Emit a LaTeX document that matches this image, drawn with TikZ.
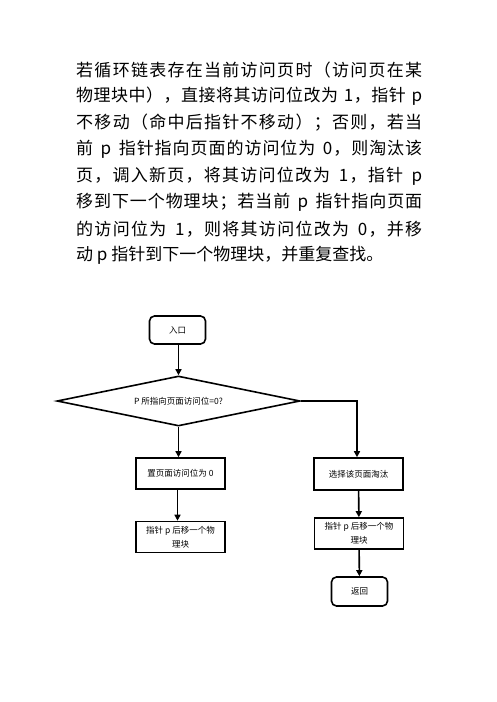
\documentclass[tikz,border=0pt]{standalone}
\usepackage{fontspec}
\newfontfamily\cjk{Noto Sans CJK SC}
\usetikzlibrary{shapes.geometric,arrows.meta}
\def\spr#1{\sprB#1\relax}
\def\sprB#1{#1\sprA}
\def\sprA#1{\ifx\relax#1\else\hskip 0pt plus 1pt #1\expandafter\sprA\fi}
\tikzset{
  para/.style={anchor=west, inner sep=0pt, font=\cjk\fontsize{17}{20}\selectfont},
  box/.style={draw, line width=1.6pt, minimum width=89pt, minimum height=31pt, inner sep=1pt,
    font=\cjk\fontsize{8.5}{14}\selectfont, align=center},
  term/.style={box, rounded corners=5pt, minimum width=56pt, minimum height=28pt},
  decision/.style={draw, line width=1.6pt, shape=diamond, shape aspect=4.86, minimum width=243pt,
    minimum height=50pt, inner sep=0pt, font=\cjk\fontsize{8.5}{14}\selectfont},
  arr/.style={line width=1.6pt, -{Triangle[length=6pt,width=6pt]}}
}
\begin{document}
\begin{tikzpicture}[x=1pt,y=-1pt]
\useasboundingbox (0,0) rectangle (496,702);
\fill[white] (0,0) rectangle (496,702);
\node[para] (l1) at (76,70)    {\makebox[346pt][s]{\spr{若循环链表存在当前访问页时（访问页在某}}};
\node[para] (l2) at (76,96.5)  {\makebox[346pt][s]{\spr{物理块中），直接将其访问位改为\ 1，指针\ p}}};
\node[para] (l3) at (76,123)   {\makebox[346pt][s]{\spr{不移动（命中后指针不移动）；否则，若当}}};
\node[para] (l4) at (76,149.5) {\makebox[346pt][s]{\spr{前\ p\ 指针指向页面的访问位为\ 0，则淘汰该}}};
\node[para] (l5) at (76,176)   {\makebox[346pt][s]{\spr{页，调入新页，将其访问位改为\ 1，指针\ p}}};
\node[para] (l6) at (76,202.5) {\makebox[346pt][s]{\spr{移到下一个物理块；若当前\ p\ 指针指向页面}}};
\node[para] (l7) at (76,229)   {\makebox[346pt][s]{\spr{的访问位为\ 1，则将其访问位改为\ 0，并移}}};
\node[para] (l8) at (76,255.5) {动 p 指针到下一个物理块，并重复查找。};

\node[term] (in) at (177.5,330) {入口};
\node[decision] (d) at (178.5,401) {P 所指向页面访问位=0?};
\node[box] (a) at (180.5,473.5) {置页面访问位为 0};
\node[box] (b) at (180.5,537) {指针 p 后移一个物\\理块};
\node[box, minimum height=32pt] (c) at (358.5,474) {选择该页面淘汰};
\node[box] (e) at (359,533.5) {指针 p 后移一个物\\理块};
\node[term, minimum height=29pt] (r) at (359.5,591.5) {返回};

\draw[arr] (in.south -| d.north) -- (d.north);
\draw[arr] (d.south) -- (d.south |- a.north);
\draw[arr] ([xshift=-3pt]a.south) -- ([xshift=-3pt]b.north);
\draw[arr] (d.east) -- ([xshift=-1.5pt]d.east -| c.north) -- ([xshift=-1.5pt]c.north);
\draw[arr] (c) -- (e);
\draw[arr] (e) -- (r);
\end{tikzpicture}
\end{document}
